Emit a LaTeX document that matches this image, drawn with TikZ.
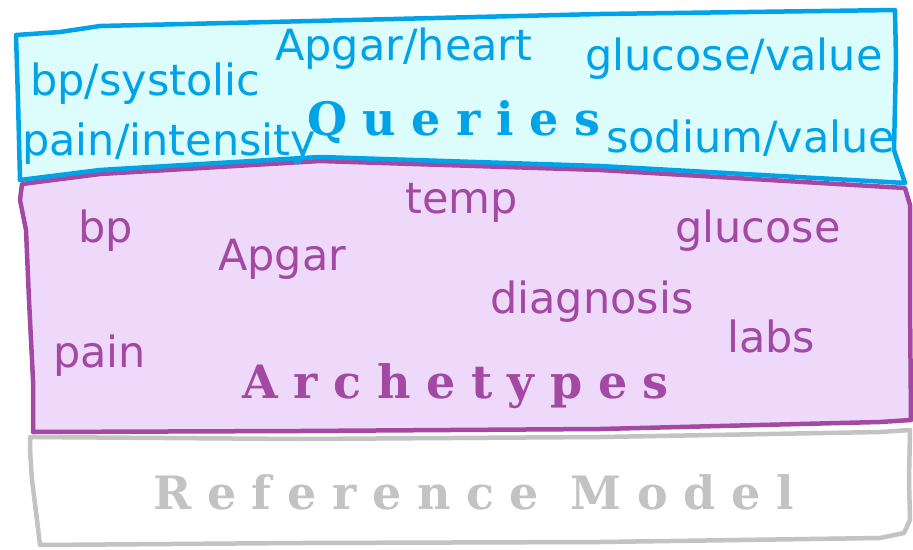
\documentclass[tikz,border=0pt]{standalone}
\usepackage{fontspec}
\setmainfont{DejaVu Sans}
\newfontfamily\headfont[LetterSpace=34]{DejaVu Serif}
\definecolor{qblue}{HTML}{00A2E8}
\definecolor{qfill}{HTML}{DDFCFC}
\definecolor{apurple}{HTML}{A349A4}
\definecolor{afill}{HTML}{EED9FA}
\definecolor{rgrey}{HTML}{C3C3C3}
\tikzset{
  qlabel/.style={text=qblue, anchor=base west, inner sep=0pt, font=\fontsize{43}{46}\selectfont},
  alabel/.style={text=apurple, anchor=base west, inner sep=0pt, font=\fontsize{43}{46}\selectfont},
  headlabel/.style={anchor=base west, inner sep=0pt, font=\headfont\bfseries\fontsize{46}{50}\selectfont},
  border/.style={line width=4.5pt, line join=round},
}
\begin{document}
\begin{tikzpicture}[x=1pt,y=-1pt]
\useasboundingbox (0,0) rectangle (913,549);
% Reference model band
\draw[border, draw=rgrey, fill=white]
  (30,437) -- (300,439) -- (600,437) -- (880,432) -- (910,430) -- (909,480) -- (910,520)
  -- (904,533) -- (880,538) -- (600,542) -- (300,543) -- (40,545) -- (37,520) -- (32,480) -- (30,450) -- cycle;
% Archetypes band
\draw[border, draw=apurple, fill=afill]
  (22,184) -- (100,174) -- (320,161) -- (600,170) -- (905,188) -- (910,205) -- (910,300)
  -- (911,420) -- (880,422) -- (600,429) -- (300,431) -- (33,432) -- (33,380) -- (29,300) -- (26,230) -- (20,200) -- cycle;
% Queries band
\draw[border, draw=qblue, fill=qfill]
  (16,35) -- (60,32) -- (100,26) -- (270,22) -- (600,14) -- (895,10) -- (896,60) -- (894,150)
  -- (905,183) -- (600,166) -- (320,157) -- (100,170) -- (20,180) -- (18,100) -- cycle;
% Query texts
\node[qlabel] (q1) at (30,95) {bp/systolic};
\node[qlabel] (q2) at (275,60) {Apgar/heart};
\node[qlabel] (q3) at (585,70) {glucose/value};
\node[qlabel] (q4) at (22,155) {pain/intensity};
\node[qlabel] (q5) at (606,152) {sodium/value};
\node[headlabel, text=qblue] (qh) at (307,135) {Queries};
% Archetype texts
\node[alabel] (a1) at (78,242) {bp};
\node[alabel] (a2) at (405,213) {temp};
\node[alabel] (a3) at (675,242) {glucose};
\node[alabel] (a4) at (218,270) {Apgar};
\node[alabel] (a5) at (490,313) {diagnosis};
\node[alabel] (a6) at (727,352) {labs};
\node[alabel] (a7) at (53,367) {pain};
\node[headlabel, text=apurple] (ah) at (242,398) {Archetypes};
% Reference model text
\node[headlabel, text=rgrey] (rh) at (153,509) {Reference Model};
\end{tikzpicture}
\end{document}
